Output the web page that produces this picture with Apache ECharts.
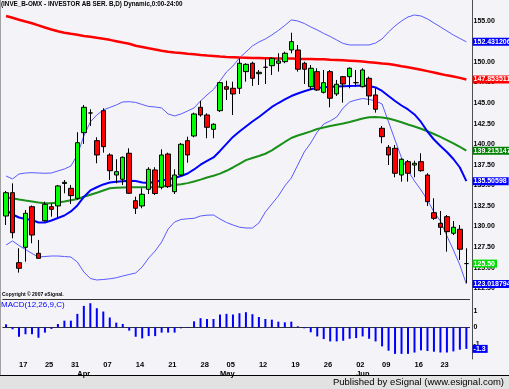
<!DOCTYPE html>
<html><head><meta charset="utf-8">
<script src="https://cdn.jsdelivr.net/npm/echarts@6/dist/echarts.min.js"></script>
<style>html,body{margin:0;padding:0;background:#f4f4f8;}#c{width:509px;height:389px;}</style>
</head><body><div id="c"></div>
<script>
// ---- data ----
const categories = [
 '2008-03-13','2008-03-14','2008-03-17','2008-03-18','2008-03-19','2008-03-20','2008-03-25','2008-03-26','2008-03-27','2008-03-28','2008-03-31',
 '2008-04-01','2008-04-02','2008-04-03','2008-04-04','2008-04-07','2008-04-08','2008-04-09','2008-04-10','2008-04-11','2008-04-14','2008-04-15','2008-04-16','2008-04-17','2008-04-18','2008-04-21','2008-04-22','2008-04-23','2008-04-24','2008-04-25','2008-04-28','2008-04-29','2008-04-30',
 '2008-05-02','2008-05-05','2008-05-06','2008-05-07','2008-05-08','2008-05-09','2008-05-12','2008-05-13','2008-05-14','2008-05-15','2008-05-16','2008-05-19','2008-05-20','2008-05-21','2008-05-22','2008-05-23','2008-05-26','2008-05-27','2008-05-28','2008-05-29','2008-05-30',
 '2008-06-02','2008-06-03','2008-06-04','2008-06-05','2008-06-09','2008-06-10','2008-06-11','2008-06-12','2008-06-13','2008-06-16','2008-06-17','2008-06-18','2008-06-19','2008-06-23','2008-06-24','2008-06-25','2008-06-26','2008-06-27'
];
const opens  = [131.28,134.11,125.61,127.48,132.41,126.75,130.71,132.41,132.50,135.23,134.64,133.43,141.40,143.79,140.43,144.07,138.69,136.26,135.74,138.90,133.14,132.50,134.52,136.87,134.77,138.81,134.23,136.26,140.43,141.00,144.48,143.55,141.81,144.07,146.98,146.79,146.79,148.81,149.83,148.56,149.34,149.53,149.83,150.02,151.44,151.44,149.83,146.98,148.81,146.30,148.81,146.10,148.20,148.20,147.47,146.98,148.00,145.98,141.93,139.62,139.50,136.26,137.88,137.47,137.88,136.26,131.68,130.39,131.20,129.18,129.67,125.50];
const closes = [134.11,129.25,124.93,131.61,128.97,126.14,132.70,132.09,134.93,135.37,133.75,140.18,144.48,143.79,138.69,139.70,136.78,136.66,138.41,134.04,132.22,133.92,136.95,134.01,138.69,134.84,136.26,139.99,138.69,143.67,143.55,142.05,142.42,147.47,146.67,146.10,149.83,149.70,148.00,148.73,149.34,150.43,150.11,151.04,152.45,149.10,149.10,149.22,146.58,147.47,145.58,147.28,147.31,149.22,147.47,149.01,145.86,144.24,140.91,138.69,136.47,138.17,136.47,137.68,136.78,133.02,131.00,129.91,129.38,129.91,127.24,125.50];
const lows   = [130.19,128.57,124.40,125.73,127.97,126.12,130.59,131.20,131.00,134.04,132.74,133.28,140.03,142.21,137.68,138.97,135.65,135.25,135.05,133.95,131.52,132.22,133.95,133.83,134.52,134.68,133.95,136.14,137.75,140.84,143.34,140.72,140.72,143.91,145.37,143.55,146.10,147.59,147.07,147.19,147.31,148.41,148.81,149.83,151.04,148.81,147.31,146.58,146.46,146.16,144.48,145.86,145.04,146.79,146.98,146.89,144.76,143.83,140.11,137.47,135.98,135.45,135.45,135.98,136.66,132.50,130.80,128.97,126.95,128.97,125.94,123.14];
const highs  = [134.32,135.25,127.36,132.01,132.56,128.37,133.02,132.82,135.05,135.65,135.05,141.45,144.76,144.24,140.84,144.36,138.90,138.17,138.51,139.50,133.63,134.64,137.20,137.20,139.38,138.97,136.95,140.15,140.91,143.83,145.28,143.75,142.54,147.56,147.71,147.59,150.43,149.83,150.02,149.01,150.43,150.51,151.04,151.24,153.54,152.05,150.02,149.62,149.22,149.01,149.01,147.80,148.28,149.32,149.01,149.22,148.20,146.79,142.21,139.90,139.90,138.29,138.08,138.00,138.90,136.47,133.43,131.89,131.40,130.67,130.19,127.36];
const maBlue  = [132.01,131.46,131.10,130.92,130.80,130.49,130.49,130.74,131.04,131.34,131.83,132.56,133.59,134.38,134.77,135.11,135.35,135.44,135.50,135.56,135.53,135.35,135.29,135.45,135.58,135.74,135.90,136.14,136.44,136.93,137.51,137.96,138.39,139.18,140.03,140.88,141.54,142.15,142.76,143.30,143.91,144.52,145.00,145.43,145.85,146.16,146.43,146.67,146.83,146.91,146.97,147.01,147.05,147.07,147.09,147.12,147.07,146.89,146.46,145.85,145.25,144.70,144.22,143.61,142.70,141.54,140.57,139.78,139.05,138.20,137.17,135.50598];
const maGreen = [133.53,133.43,133.29,133.16,133.04,132.92,132.82,132.82,132.92,133.04,133.19,133.35,133.61,133.86,134.11,134.38,134.65,134.71,134.75,134.77,134.77,134.77,134.78,134.80,134.85,134.95,135.05,135.13,135.27,135.47,135.70,135.95,136.16,136.42,136.77,137.17,137.62,138.06,138.33,138.57,138.84,139.24,139.76,140.27,140.75,141.06,141.29,141.56,141.85,142.03,142.21,142.37,142.52,142.70,142.90,143.12,143.28,143.30,143.24,143.12,142.90,142.66,142.39,142.15,141.87,141.57,141.24,140.88,140.50,140.11,139.66,139.215147];
const maRed   = [155.57,155.35,155.12,154.89,154.68,154.43,154.17,153.93,153.71,153.54,153.40,153.29,153.15,153.05,152.92,152.80,152.67,152.51,152.34,152.19,151.96,151.81,151.65,151.50,151.34,151.22,151.14,151.08,150.99,150.92,150.83,150.76,150.70,150.64,150.60,150.57,150.53,150.51,150.48,150.47,150.45,150.43,150.42,150.41,150.40,150.37,150.36,150.35,150.32,150.30,150.26,150.23,150.19,150.14,150.09,150.03,149.96,149.89,149.81,149.74,149.62,149.47,149.34,149.20,149.04,148.87,148.70,148.53,148.36,148.21,148.05,147.853511];
const bbUpper = [136.14,135.78,136.38,136.50,136.54,136.50,136.47,136.50,136.75,136.99,137.35,138.69,141.00,142.70,143.55,144.16,144.46,144.76,145.13,145.16,145.07,144.82,144.58,144.52,144.40,143.67,143.43,143.67,144.03,144.40,145.25,145.98,146.64,147.68,148.77,149.50,150.47,151.20,151.93,152.41,152.78,153.26,153.81,154.42,155.09,154.96,154.66,154.24,153.87,153.45,153.08,152.66,152.23,152.05,152.05,152.05,152.05,152.29,152.78,153.63,154.36,154.96,155.45,155.69,155.57,155.21,154.72,154.24,153.75,153.26,152.84,152.431206];
const bbLower = [127.76,128.25,127.70,127.21,126.73,126.30,126.36,126.42,126.42,126.36,126.30,125.69,124.48,123.69,123.51,123.57,123.65,123.78,123.99,124.18,124.36,125.09,126.18,127.03,128.12,129.70,130.55,130.86,130.94,131.00,131.28,131.38,131.40,130.92,130.49,130.19,129.92,129.82,129.82,130.43,131.77,132.74,133.71,134.93,135.90,137.48,139.05,140.15,141.48,142.45,142.82,143.30,144.40,145.13,145.37,145.55,145.43,145.25,144.88,142.70,140.51,138.33,136.75,135.53,134.44,133.22,131.77,130.67,128.85,127.15,125.33,123.018794];
const macdHist = [0.18,-0.12,-0.57,-0.42,-0.42,-0.63,-0.32,-0.1,0.2,0.4,0.4,0.81,1.29,1.45,1.15,0.95,0.59,0.28,0.2,-0.2,-0.57,-0.67,-0.53,-0.53,-0.32,-0.32,-0.32,-0.06,-0.04,0.36,0.55,0.5,0.5,0.77,0.81,0.77,0.85,0.91,0.79,0.62,0.5,0.46,0.34,0.3,0.34,0.06,-0.06,-0.3,-0.55,-0.71,-0.85,-0.85,-0.81,-0.69,-0.65,-0.55,-0.69,-0.85,-1.15,-1.41,-1.6,-1.6,-1.6,-1.52,-1.39,-1.43,-1.47,-1.52,-1.52,-1.45,-1.35,-1.3];
const priceTicks = [122.5,125,127.5,130,132.5,135,137.5,140,142.5,145,147.5,150,152.5,155];
const macdTicks = [-1,0,1];
const dayTicks = ['2008-03-17','2008-03-25','2008-03-31','2008-04-07','2008-04-14','2008-04-21','2008-04-28','2008-05-05','2008-05-12','2008-05-19','2008-05-26','2008-06-02','2008-06-09','2008-06-16','2008-06-23'];
const monthTicks = ['2008-04-01','2008-05-02','2008-06-02'];
const monthNames = {'04':'Apr','05':'May','06':'Jun'};

// ---- chart ----
const FN = "'Liberation Sans Narrow','Liberation Sans',Arial,sans-serif";
const ohlc = opens.map((o,i)=>[o,closes[i],lows[i],highs[i]]);
const last = a => a[a.length-1];
function tag(v, bg, fg, txt){
  return {silent:true, symbol:['none','none'], animation:false, precision:6,
    lineStyle:{color:'rgba(0,0,0,0)', width:0},
    label:{show:true, position:'end', distance:3, formatter: txt, backgroundColor:bg, color:fg,
      fontFamily:FN, fontSize:7, fontWeight:'bold', padding:[1,2,0,1], lineHeight:7},
    emphasis:{disabled:true},
    data:[{yAxis:v}]};
}
const GL = 2.8, GW = 466.8;
const chart = echarts.init(document.getElementById('c'), null, {renderer:'canvas'});
chart.setOption({
  animation:false,
  backgroundColor:'#f4f4f8',
  textStyle:{fontFamily:FN},
  title:[
    {text:'(INVE_B-OMX - INVESTOR AB SER. B,D) Dynamic,0:00-24:00', left:1, top:1, padding:0,
     textStyle:{fontSize:6.3, fontWeight:'bold', color:'#000', fontFamily:FN}},
    {text:'Copyright © 2007 eSignal.', left:2, top:292, padding:0,
     textStyle:{fontSize:5, fontWeight:'bold', color:'#000', fontFamily:FN}},
    {text:'MACD(12,26,9,C)', left:1, top:301, padding:0,
     textStyle:{fontSize:8, fontWeight:'normal', color:'#0000ff', fontFamily:FN}},
    {text:'Published by eSignal (www.esignal.com)', right:5, top:377.5, padding:0,
     textStyle:{fontSize:9.5, fontWeight:'normal', color:'#000', fontFamily:"'Liberation Sans',Arial,sans-serif"}}
  ],
  graphic:[
    {type:'rect', shape:{x:0,y:375.5,width:509,height:14}, style:{fill:'#e2e2e2'}, z:-1},
    {type:'line', shape:{x1:0,y1:375.5,x2:509,y2:375.5}, style:{stroke:'#000',lineWidth:1}},
    {type:'line', shape:{x1:0.5,y1:0,x2:0.5,y2:375}, style:{stroke:'#a0a0a0',lineWidth:1}}
  ],
  grid:[
    {left:GL, top:0, width:GW, height:299, outerBoundsMode:'none'},
    {left:GL, top:299, width:GW, height:60, outerBoundsMode:'none'}
  ],
  xAxis:[
    {type:'category', gridIndex:0, data:categories, boundaryGap:true, position:'bottom',
     axisLine:{show:true, lineStyle:{color:'#333', width:1}}, axisTick:{show:false}, axisLabel:{show:false}, splitLine:{show:false}},
    {type:'category', gridIndex:1, data:categories, boundaryGap:true, position:'bottom',
     axisLine:{show:true, lineStyle:{color:'#333', width:1}}, axisTick:{show:false}, splitLine:{show:false},
     axisLabel:{show:true, interval:(i,v)=>dayTicks.includes(v), formatter:v=>v.slice(8,10),
       align:'left', margin:2, fontSize:7.5, fontWeight:'bold', color:'#000', fontFamily:FN}},
    {type:'category', gridIndex:1, data:categories, boundaryGap:true, position:'bottom', offset:9,
     axisLine:{show:false}, axisTick:{show:false}, splitLine:{show:false},
     axisLabel:{show:true, interval:(i,v)=>monthTicks.includes(v), formatter:v=>monthNames[v.slice(5,7)],
       align:'left', margin:2, fontSize:7.5, fontWeight:'bold', color:'#000', fontFamily:FN}}
  ],
  yAxis:[
    {type:'value', gridIndex:0, position:'right', offset:2.4, min:121.2, max:157.51, scale:true,
     axisLine:{show:true, lineStyle:{color:'#505050'}}, axisTick:{show:false}, splitLine:{show:false},
     axisLabel:{customValues:priceTicks, formatter:v=>v.toFixed(2), margin:1.5, fontSize:7, fontWeight:'bold', color:'#000', fontFamily:FN}},
    {type:'value', gridIndex:1, position:'right', offset:2.4, min:-1.91, max:1.705,
     axisLine:{show:true, lineStyle:{color:'#505050'}}, axisTick:{show:false}, splitLine:{show:false},
     axisLabel:{customValues:macdTicks, formatter:v=>String(v), margin:1.5, fontSize:7, fontWeight:'bold', color:'#000', fontFamily:FN}}
  ],
  series:[
    {name:'BBU', type:'line', data:bbUpper, symbol:'none', lineStyle:{color:'#5a5aff', width:1}, z:1,
     markLine:tag(last(bbUpper),'#0000ff','#fff',String(last(bbUpper)))},
    {name:'BBL', type:'line', data:bbLower, symbol:'none', lineStyle:{color:'#5a5aff', width:1}, z:1,
     markLine:tag(last(bbLower),'#0000ff','#fff',String(last(bbLower)))},
    {name:'MA red', type:'line', data:maRed, symbol:'none', lineStyle:{color:'#ff0000', width:2.5}, z:1,
     markLine:tag(last(maRed),'#ff0000','#fff',String(last(maRed)))},
    {name:'MA green', type:'line', data:maGreen, symbol:'none', lineStyle:{color:'#1a8f1a', width:2}, z:1,
     markLine:tag(last(maGreen),'#008000','#fff',String(last(maGreen)))},
    {name:'MA blue', type:'line', data:maBlue, symbol:'none', lineStyle:{color:'#0000ff', width:2}, z:1,
     markLine:tag(last(maBlue),'#0000ff','#fff',String(last(maBlue)))},
    {name:'Price', type:'candlestick', data:ohlc, barWidth:5, z:3,
     itemStyle:{color:'#00ff00', color0:'#ff0000', borderColor:'#000', borderColor0:'#000', borderColorDoji:'#000', borderWidth:1},
     markLine:tag(last(closes),'#00e000','#fff',last(closes).toFixed(2))},
    {name:'MACD', type:'bar', xAxisIndex:1, yAxisIndex:1, data:macdHist, barWidth:2,
     itemStyle:{color:'#0000ff'},
     markLine:tag(last(macdHist),'#0000ff','#fff',String(last(macdHist)))}
  ]
});
</script></body></html>
